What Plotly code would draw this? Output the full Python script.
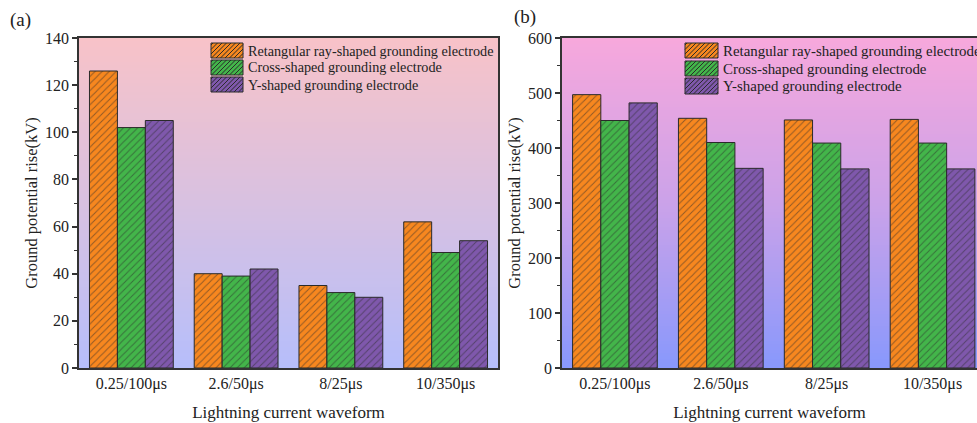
import plotly.graph_objects as go

categories = ["0.25/100μs", "2.6/50μs", "8/25μs", "10/350μs"]
series_names = ["Retangular ray-shaped grounding electrode",
                "Cross-shaped grounding electrode",
                "Y-shaped grounding electrode"]
# panel (a)
a_rect = [126, 40, 35, 62]
a_cross = [102, 39, 32, 49]
a_y = [105, 42, 30, 54]
# panel (b)
b_rect = [497, 454, 451, 452]
b_cross = [450, 410, 409, 409]
b_y = [482, 363, 362, 362]

colors = ["#f7871f", "#43b54a", "#7f58ac"]
HATCH = "#2a2a2a"
FONT = "Times New Roman, Liberation Serif, DejaVu Serif, serif"
W, H = 977, 423

fig = go.Figure()

def add_bars(vals_list, xa, ya):
    for name, vals, c in zip(series_names, vals_list, colors):
        fig.add_trace(go.Bar(
            x=categories, y=vals, name=name, xaxis=xa, yaxis=ya, showlegend=False,
            marker=dict(color=c, line=dict(color=HATCH, width=1),
                        pattern=dict(shape="/", fgcolor=HATCH, bgcolor=c,
                                     size=5, solidity=0.2, fillmode="overlay")),
        ))

add_bars([a_rect, a_cross, a_y], "x", "y")
add_bars([b_rect, b_cross, b_y], "x2", "y2")

# domains in pixels
ay0, ay1 = 1 - 368 / H, 1 - 38 / H
axa = [79 / W, 498 / W]
axb = [562 / W, 1.0]

def hexrgb(h):
    h = h.lstrip("#")
    return tuple(int(h[i:i + 2], 16) for i in (0, 2, 4))

def lerp(c1, c2, t):
    return tuple(round(a + (b - a) * t) for a, b in zip(c1, c2))

def gradient(xref, yref, stops, n=110):
    for i in range(n):
        t = (i + 0.5) / n
        for j in range(len(stops) - 1):
            if stops[j][0] <= t <= stops[j + 1][0]:
                f = (t - stops[j][0]) / (stops[j + 1][0] - stops[j][0])
                c = lerp(hexrgb(stops[j][1]), hexrgb(stops[j + 1][1]), f)
                break
        fig.add_shape(type="rect", xref=xref, yref=yref, x0=0, x1=1,
                      y0=i / n, y1=(i + 1) / n + 0.002, layer="below",
                      line=dict(width=0), fillcolor="rgb(%d,%d,%d)" % c)

gradient("x domain", "y domain", [(0, "#b6befb"), (0.5, "#d8c1e1"), (1, "#f8c2c8")])
gradient("x2 domain", "y2 domain", [(0, "#8898fc"), (0.5, "#cba2e9"), (1, "#f7a8dc")])

# custom legend (swatches drawn in pixel space -> paper coords)
def px(x):
    return x / W

def py(y):
    return 1 - y / H

annotations = []

def legend_block(x0, x1, rows, text_x, fsize):
    for (y0, y1), name, c in zip(rows, series_names, colors):
        fig.add_shape(type="rect", xref="paper", yref="paper",
                      x0=px(x0), x1=px(x1), y0=py(y1), y1=py(y0),
                      fillcolor=c, line=dict(width=0), layer="above")
        segs = []
        s = 4.5
        k = x0 + y0 + 2
        while k < x1 + y1:
            xa = max(x0, k - y1)
            xb = min(x1, k - y0)
            if xb > xa:
                segs.append("M%.5f,%.5f L%.5f,%.5f" % (px(xa), py(k - xa), px(xb), py(k - xb)))
            k += s
        fig.add_shape(type="path", xref="paper", yref="paper", path=" ".join(segs),
                      line=dict(color=HATCH, width=1), layer="above")
        fig.add_shape(type="rect", xref="paper", yref="paper",
                      x0=px(x0), x1=px(x1), y0=py(y1), y1=py(y0),
                      line=dict(color=HATCH, width=1), layer="above")
        annotations.append(dict(text=name, x=px(text_x), y=py((y0 + y1) / 2), xref="paper",
                                yref="paper", xanchor="left", yanchor="middle", showarrow=False,
                                font=dict(family=FONT, size=fsize, color="#222222")))

legend_block(211, 243, [(43, 58), (60, 75), (77, 92)], 246, 14.2)
legend_block(685, 718, [(43, 58), (61, 76), (78, 94)], 721, 14.9)

annotations += [
    dict(text="(a)", x=8 / W, y=1 - 20 / H, xref="paper", yref="paper", xanchor="left",
         yanchor="middle", showarrow=False, font=dict(family=FONT, size=19, color="#222222")),
    dict(text="(b)", x=512 / W, y=1 - 17 / H, xref="paper", yref="paper", xanchor="left",
         yanchor="middle", showarrow=False, font=dict(family=FONT, size=19, color="#222222")),
]

axis_common = dict(showline=True, linecolor="#333333", linewidth=1.5, automargin=False,
                   tickfont=dict(family=FONT, size=16, color="#222222"),
                   showgrid=False, zeroline=False)

fig.update_layout(
    width=W, height=H,
    margin=dict(l=0, r=0, t=0, b=0, autoexpand=False),
    paper_bgcolor="white", plot_bgcolor="rgba(0,0,0,0)",
    barmode="group", bargap=0.2, bargroupgap=0,
    font=dict(family=FONT, color="#222222"),
    showlegend=False,
    xaxis=dict(domain=axa, anchor="y", range=[-0.5, 3.5], mirror=True, ticks="",
               title=dict(text="Lightning current waveform", font=dict(family=FONT, size=17), standoff=14),
               **axis_common),
    yaxis=dict(domain=[ay0, ay1], anchor="x", range=[0, 140], dtick=20, mirror=True,
               ticks="outside", ticklen=5, tickwidth=1.5, tickcolor="#333333",
               minor=dict(ticks="outside", ticklen=3, dtick=10, tickcolor="#333333", tickwidth=1.2),
               title=dict(text="Ground potential rise(kV)", font=dict(family=FONT, size=16.5), standoff=3),
               **axis_common),
    xaxis2=dict(domain=axb, anchor="y2", range=[-0.5, 3.42], mirror=True, ticks="",
                title=dict(text="Lightning current waveform", font=dict(family=FONT, size=17), standoff=14),
                **axis_common),
    yaxis2=dict(domain=[ay0, ay1], anchor="x2", range=[0, 600], dtick=100, mirror=False,
                ticks="outside", ticklen=5, tickwidth=1.5, tickcolor="#333333",
                minor=dict(ticks="outside", ticklen=3, dtick=50, tickcolor="#333333", tickwidth=1.2),
                title=dict(text="Ground potential rise(kV)", font=dict(family=FONT, size=16.5), standoff=3),
                **axis_common),
    annotations=annotations,
)

fig.write_html("out.html")
